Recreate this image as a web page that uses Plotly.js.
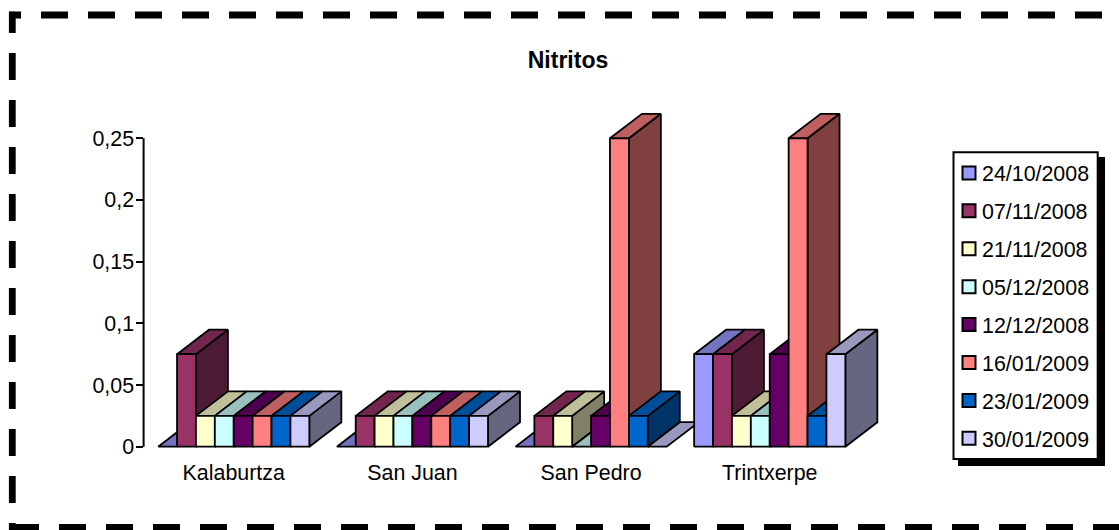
<!DOCTYPE html>
<html>
<head>
<meta charset="utf-8">
<script src="https://cdn.plot.ly/plotly-3.0.1.min.js"></script>
<style>html,body{margin:0;padding:0;background:#fff}#chart{width:1119px;height:530px}</style>
</head>
<body>
<div id="chart"></div>
<script>
// ---- data ----
const categories = ["Kalaburtza", "San Juan", "San Pedro", "Trintxerpe"];
const seriesNames = ["24/10/2008", "07/11/2008", "21/11/2008", "05/12/2008", "12/12/2008", "16/01/2009", "23/01/2009", "30/01/2009"];
const s20081024 = [0, 0, 0, 0.075];
const s20081107 = [0.075, 0.025, 0.025, 0.075];
const s20081121 = [0.025, 0.025, 0.025, 0.025];
const s20081205 = [0.025, 0.025, 0, 0.025];
const s20081212 = [0.025, 0.025, 0.025, 0.075];
const s20090116 = [0.025, 0.025, 0.25, 0.25];
const s20090123 = [0.025, 0.025, 0.025, 0.025];
const s20090130 = [0.025, 0.025, 0, 0.075];
const seriesValues = [s20081024, s20081107, s20081121, s20081205, s20081212, s20090116, s20090123, s20090130];
const yTickValues = [0, 0.05, 0.1, 0.15, 0.2, 0.25];
const yTickLabels = ["0", "0,05", "0,1", "0,15", "0,2", "0,25"];
const chartTitle = "Nitritos";

// ---- style ----
const frontColors = ["#9999FF", "#993366", "#FFFFCC", "#CCFFFF", "#660066", "#FF8080", "#0066CC", "#CCCCFF"];
const FONT = '"Liberation Sans", Arial, sans-serif';
const TEXT = 21.4;
const W = 1119, H = 530;
const catPx = 178.67;                     // pixels per category
const valPx = 308.4 / 0.25;               // pixels per value unit
const zeroX = 144.4, zeroY = 446.7;       // left end of the category axis, value 0
const axisX = 143.6;                      // pixel column of the value axis line
const barW = 18.9 / catPx;                // category units
const depthX = 32 / catPx;                // category units
const depthY = 24.5 / valPx;              // value units
// the axes reach a little past the data so the 3-D depth of the bars is not clipped
const xMin = -0.5, xMax = 3.75;
const yMin = -3 / valPx, yMax = 0.25 + depthY + 3 / valPx;

function shade(hex, f) {
  const n = parseInt(hex.slice(1), 16);
  const c = [(n >> 16) & 255, (n >> 8) & 255, n & 255].map(v => Math.round(v * f));
  return `rgb(${c[0]},${c[1]},${c[2]})`;
}
function face(xs, ys, color) {
  return {
    type: "scatter", mode: "lines", x: xs.concat(xs[0]), y: ys.concat(ys[0]),
    fill: "toself", fillcolor: color, line: { color: "#000", width: 1.8, simplify: false },
    showlegend: false, hoverinfo: "skip"
  };
}

const traces = [];
categories.forEach((cat, c) => {
  seriesValues.forEach((vals, s) => {
    const v = vals[c];
    const x0 = c + (s - seriesValues.length / 2) * barW;
    const x1 = x0 + barW;
    const col = frontColors[s];
    if (v > 0) {
      traces.push(face([x1, x1 + depthX, x1 + depthX, x1], [0, depthY, v + depthY, v], shade(col, 0.5)));
    }
    traces.push(face([x0, x1, x1 + depthX, x0 + depthX], [v, v, v + depthY, v + depthY], shade(col, 0.75)));
    if (v > 0) {
      traces.push(face([x0, x1, x1, x0], [0, 0, v, v], col));
    }
  });
});
// legend entries
seriesNames.forEach((name, s) => {
  traces.push({
    type: "scatter", mode: "markers", x: [null], y: [null], name: name, legendgroup: name,
    marker: { symbol: "square", size: 13, color: frontColors[s], line: { color: "#000", width: 2 } },
    hoverinfo: "skip"
  });
});

const px = v => v / W, py = v => 1 - v / H;
function rect(x0, y0, x1, y1, fill, lw) {
  return { type: "rect", xref: "paper", yref: "paper", x0: px(x0), x1: px(x1), y0: py(y0), y1: py(y1),
    fillcolor: fill, line: { color: "#000", width: lw }, layer: "below" };
}
function dashLine(x0, y0, x1, y1, first) {
  const dash = first + "px,20px," + "27px,20px,".repeat(30) + "27px,20px";
  return { type: "line", xref: "paper", yref: "paper", x0: px(x0), x1: px(x1), y0: py(y0), y1: py(y1),
    line: { color: "#000", width: 6.8, dash: dash }, layer: "above" };
}

const layout = {
  width: W, height: H, autosize: false,
  margin: { l: 0, r: 0, t: 0, b: 0, pad: 0 },
  paper_bgcolor: "#fff", plot_bgcolor: "rgba(0,0,0,0)",
  font: { family: FONT, size: TEXT, color: "#000" },
  title: { text: "<b>" + chartTitle + "</b>", x: 568 / W, xanchor: "center", xref: "paper",
           y: py(60), yanchor: "middle", yref: "paper", font: { family: FONT, size: 23, color: "#000" } },
  xaxis: {
    domain: [px(zeroX), px(zeroX + (xMax - xMin) * catPx)], range: [xMin, xMax], type: "linear",
    tickmode: "array", tickvals: categories.map((_, i) => i), ticktext: categories,
    showline: false, showgrid: false, zeroline: false, ticks: "", ticklabelstandoff: 8,
    tickfont: { family: FONT, size: TEXT, color: "#000" }, automargin: false, fixedrange: true
  },
  yaxis: {
    domain: [py(zeroY - yMin * valPx), py(zeroY - yMax * valPx)], range: [yMin, yMax], type: "linear",
    tickmode: "array", tickvals: yTickValues, ticktext: yTickLabels,
    showline: false, showgrid: false, zeroline: false,
    ticks: "outside", ticklen: 7, tickwidth: 2, tickcolor: "#000", ticklabelstandoff: -2,
    tickfont: { family: FONT, size: TEXT, color: "#000" }, automargin: false, fixedrange: true
  },
  showlegend: true,
  legend: {
    x: px(942), xanchor: "left", y: py(152.5), yanchor: "top",
    bgcolor: "rgba(0,0,0,0)", borderwidth: 0, tracegroupgap: 7.1,
    font: { family: FONT, size: TEXT, color: "#000" }, itemclick: false, itemdoubleclick: false
  },
  shapes: [
    rect(958, 157, 1105, 466, "#000", 0),
    rect(953.5, 152.3, 1097.7, 459, "#fff", 2),
    { type: "line", xref: "paper", yref: "y", x0: px(axisX), x1: px(axisX), y0: yTickValues[0], y1: yTickValues[yTickValues.length - 1],
      line: { color: "#000", width: 2 }, layer: "above" },
    dashLine(9, 15, 1119, 15, 12),
    dashLine(12.3, 11.7, 12.3, 530, 21.3),
    dashLine(9, 527.5, 1119, 527.5, 30)
  ]
};

Plotly.newPlot("chart", traces, layout, { displayModeBar: false }).then(gd => {
  // swatches sit closer to the labels than the library's fixed gap
  const nudge = () => gd.querySelectorAll(".legend .legendpoints").forEach(n => n.setAttribute("transform", "translate(7,0)"));
  nudge();
  gd.on("plotly_afterplot", nudge);
});
</script>
</body>
</html>
